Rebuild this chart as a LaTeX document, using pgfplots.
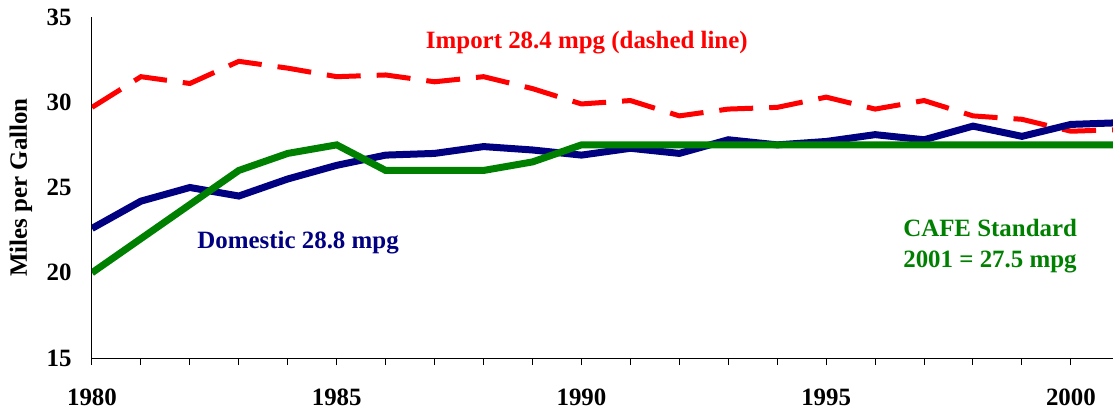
\documentclass[border=0pt]{standalone}
\usepackage{fontspec}
\setmainfont{Liberation Serif}
\usepackage{pgfplots}
\pgfplotsset{compat=1.18}
\definecolor{impred}{HTML}{FF0000}
\definecolor{domnavy}{HTML}{000080}
\definecolor{cafegreen}{HTML}{008000}
\newcommand{\bigbf}{\fontsize{25}{32}\selectfont\bfseries}
\begin{document}
\begin{tikzpicture}
\begin{axis}[
  width=1021bp, height=341bp, scale only axis,
  xmin=1980, xmax=2000.86, ymin=15, ymax=35,
  axis x line=bottom, axis y line=left,
  axis line style={-, line width=1bp},
  xtick={1980,1985,...,2000}, xticklabels={1980,1985,1990,1995,2000},
  minor xtick={1981,...,2000},
  ytick={15,20,...,35},
  tick align=outside,
  major tick length=7bp, minor tick length=7bp,
  xtick style={black, line width=1bp},
  ytick style={draw=none},
  /pgf/number format/assume math mode=true,
  tick label style={font=\bigbf},
  xticklabel style={yshift=-20bp},
  yticklabel style={xshift=-10bp},
  ylabel={Miles per Gallon},
  ylabel style={font=\bigbf, at={(axis description cs:0,0.5)}, anchor=center, yshift=71bp},
  no markers,
]
\coordinate (bl) at (rel axis cs:0,0);
\coordinate (tr) at (rel axis cs:1,1);
% Import
\addplot[impred, line width=5bp, dash pattern=on 34bp off 16bp] coordinates {
  (1980,29.7) (1981,31.5) (1982,31.1) (1983,32.4) (1984,32.0) (1985,31.5)
  (1986,31.6) (1987,31.2) (1988,31.5) (1989,30.8) (1990,29.9) (1991,30.1)
  (1992,29.2) (1993,29.6) (1994,29.7) (1995,30.3) (1996,29.6) (1997,30.1)
  (1998,29.2) (1999,29.0) (2000,28.3) (2001,28.4)};
% Domestic
\addplot[domnavy, line width=7bp] coordinates {
  (1980,22.6) (1981,24.2) (1982,25.0) (1983,24.5) (1984,25.5) (1985,26.3)
  (1986,26.9) (1987,27.0) (1988,27.4) (1989,27.2) (1990,26.9) (1991,27.3)
  (1992,27.0) (1993,27.8) (1994,27.5) (1995,27.7) (1996,28.1) (1997,27.8)
  (1998,28.6) (1999,28.0) (2000,28.7) (2001,28.8)};
% CAFE standard
\addplot[cafegreen, line width=7bp] coordinates {
  (1980,20.0) (1981,22.0) (1982,24.0) (1983,26.0) (1984,27.0) (1985,27.5)
  (1986,26.0) (1987,26.0) (1988,26.0) (1989,26.5) (1990,27.5) (1991,27.5)
  (1992,27.5) (1993,27.5) (1994,27.5) (1995,27.5) (1996,27.5) (1997,27.5)
  (1998,27.5) (1999,27.5) (2000,27.5) (2001,27.5)};
\node[impred, font=\bigbf] at (axis cs:1990.11,33.5) {Import 28.4 mpg (dashed line)};
\node[domnavy, font=\bigbf] at (axis cs:1984.21,21.74) {Domestic 28.8 mpg};
\node[cafegreen, font=\bigbf, align=left] at (axis cs:1998.35,21.56) {CAFE Standard\\2001 = 27.5 mpg};
\end{axis}
\pgfresetboundingbox
\path[use as bounding box] ([shift={(-92bp,-53bp)}]bl) rectangle ([shift={(0bp,17bp)}]tr);
\end{tikzpicture}
\end{document}
